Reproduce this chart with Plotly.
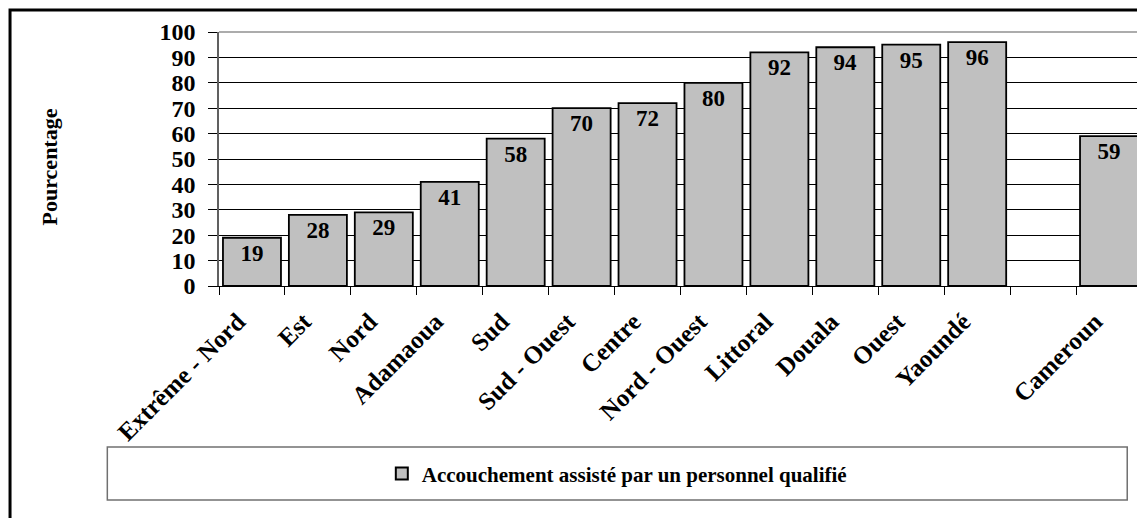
import plotly.graph_objects as go

categories = ["Extrême - Nord", "Est", "Nord", "Adamaoua", "Sud", "Sud - Ouest", "Centre",
              "Nord - Ouest", "Littoral", "Douala", "Ouest", "Yaoundé", " ", "Cameroun"]
values = [19, 28, 29, 41, 58, 70, 72, 80, 92, 94, 95, 96, None, 59]
series_name = "Accouchement assisté par un personnel qualifié"
y_ticks = list(range(0, 101, 10))

SERIF = "Liberation Serif"

fig = go.Figure()
fig.add_trace(go.Bar(
    x=categories, y=values, name=series_name,
    marker=dict(color="#C0C0C0", line=dict(color="black", width=1.8)),
    text=[("" if v is None else str(v)) for v in values],
    textposition="inside", insidetextanchor="end", textangle=0,
    textfont=dict(family=SERIF, size=23, color="black", weight="bold"),
    constraintext="none",
    showlegend=True,
))

fig.update_layout(
    width=1137, height=510,
    margin=dict(l=211, r=3, t=24, b=232, autoexpand=False),
    paper_bgcolor="white", plot_bgcolor="white",
    bargap=0.12,
    font=dict(family=SERIF, color="black"),
    xaxis=dict(
        type="category", tickson="boundaries", ticks="outside", ticklen=8,
        tickcolor="black", tickwidth=1, tickangle=-45,
        tickfont=dict(family=SERIF, size=25, color="black", weight="bold"),
        ticklabelshift=-14, ticklabelstandoff=10,
        showline=True, linecolor="black", linewidth=1, showgrid=False,
        automargin=False,
    ),
    yaxis=dict(
        range=[0, 100], tickvals=y_ticks, ticks="outside", ticklen=9,
        tickcolor="black", tickwidth=1,
        tickfont=dict(family=SERIF, size=24, color="black", weight="bold"),
        ticklabelstandoff=8,
        showline=True, linecolor="#606060", linewidth=1.5, mirror=False,
        showgrid=True, gridcolor="black", gridwidth=1, zeroline=False,
        automargin=False,
    ),
    legend=dict(
        orientation="h", x=0.431, y=-0.74, xanchor="center", yanchor="middle",
        font=dict(family=SERIF, size=21, color="black", weight="bold"),
        bgcolor="rgba(0,0,0,0)", itemsizing="constant",
    ),
)

# plot area top/right border (gray)
fig.add_shape(type="line", xref="paper", yref="paper", x0=0, x1=1, y0=1, y1=1,
              line=dict(color="#909090", width=1.5))
fig.add_shape(type="line", xref="paper", yref="paper", x0=1, x1=1, y0=0, y1=1,
              line=dict(color="#909090", width=1.5))
# legend box
fig.add_shape(type="rect", xref="paper", yref="paper", x0=-0.121, x1=0.984, y0=-0.843, y1=-0.634,
              line=dict(color="#707070", width=1.5), fillcolor="rgba(0,0,0,0)", layer="below")
# outer frame
fig.add_shape(type="rect", xref="paper", yref="paper", x0=-0.2264, x1=1.05, y0=-1.3, y1=1.087,
              line=dict(color="black", width=3), fillcolor="rgba(0,0,0,0)")

fig.add_annotation(text="Pourcentage", xref="paper", yref="paper", x=-0.199, y=0.47,
                   textangle=-90, showarrow=False,
                   font=dict(family=SERIF, size=22, color="black", weight="bold"))

fig.write_html("out.html")
